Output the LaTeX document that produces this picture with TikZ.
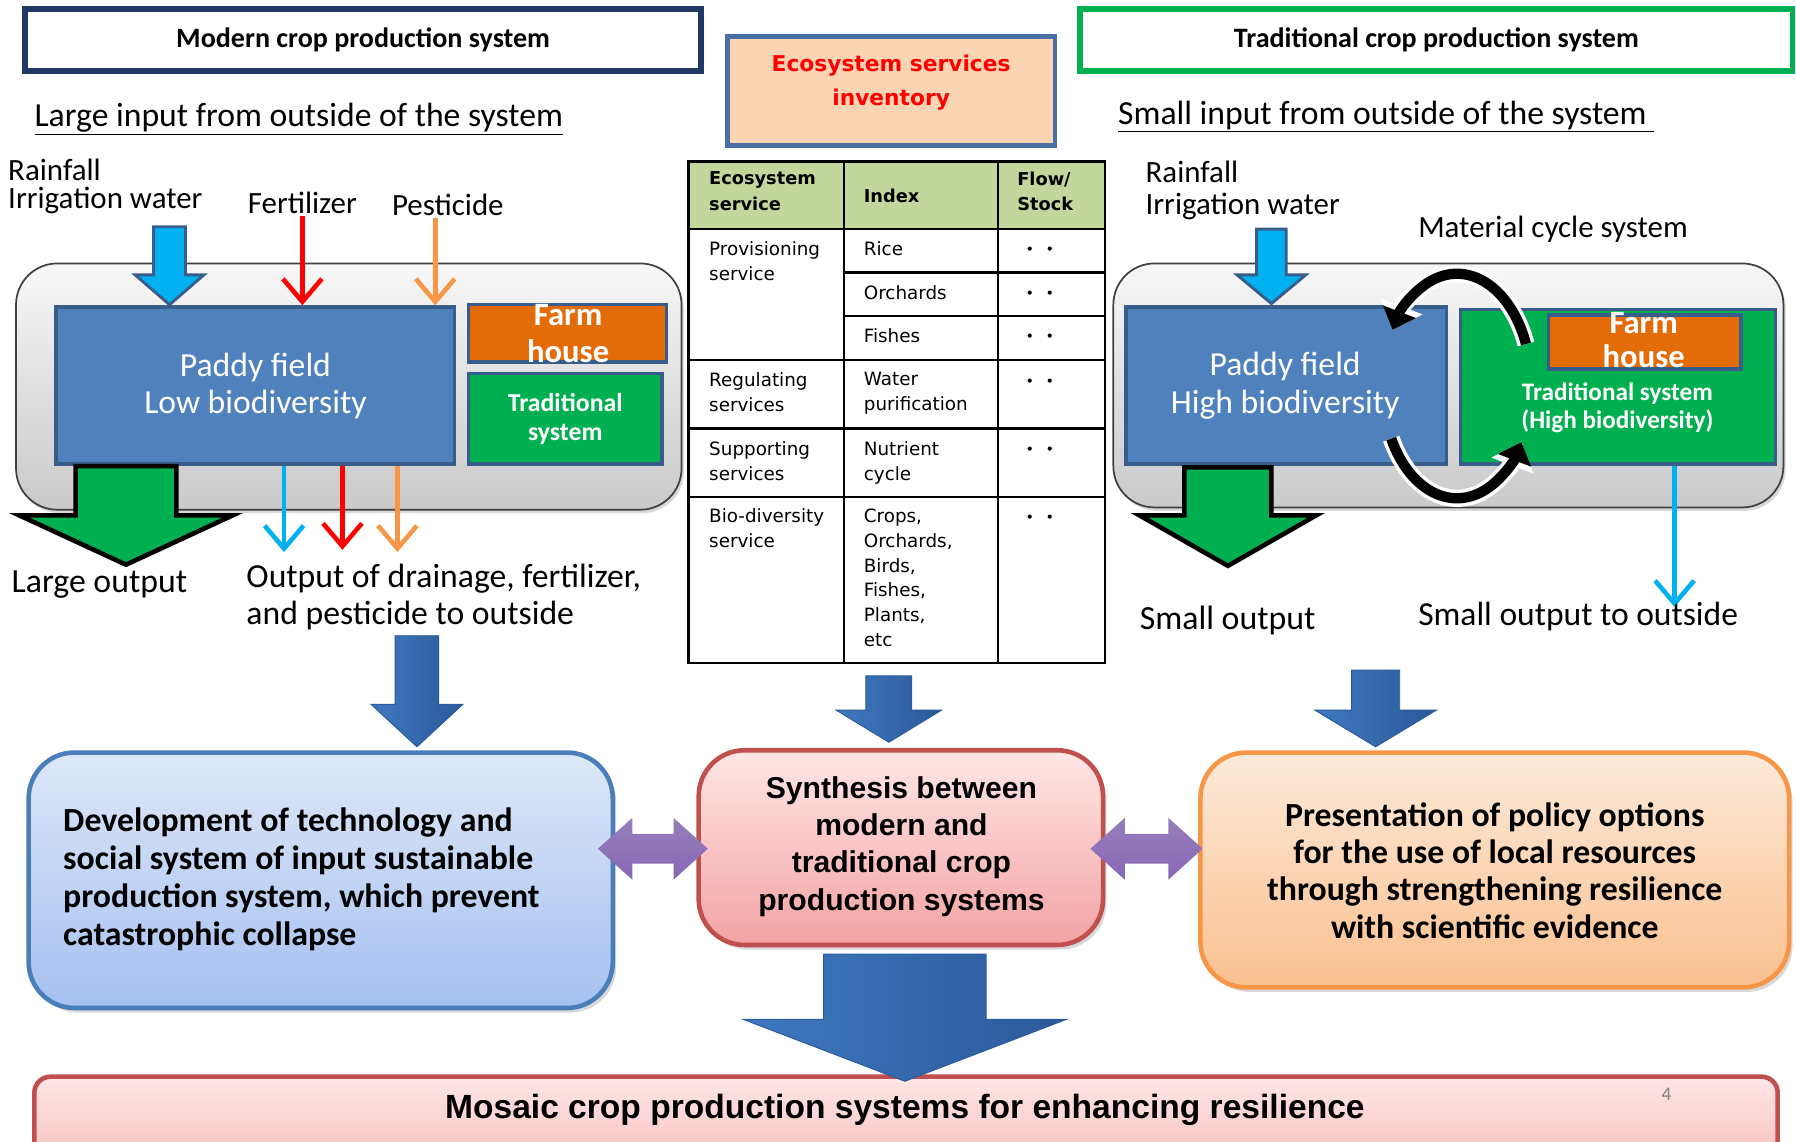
\documentclass[tikz,border=0pt]{standalone}
\usepackage{fontspec}
\setmainfont{Carlito}
\newfontfamily\arialf{Liberation Sans}
\newfontfamily\verd{DejaVu Sans}
\newfontfamily\cjk{Noto Sans CJK JP}
\usetikzlibrary{arrows.meta,shadows}
\definecolor{navy}{HTML}{1F3864}
\definecolor{hdrgreen}{HTML}{00B050}
\definecolor{peach}{HTML}{FBD4B4}
\definecolor{peachedge}{HTML}{4A6FA5}
\definecolor{paddy}{HTML}{4F81BD}
\definecolor{paddyedge}{HTML}{385D8A}
\definecolor{farm}{HTML}{E36C09}
\definecolor{tgreen}{HTML}{00B050}
\definecolor{cyanw}{HTML}{00B0F0}
\definecolor{redw}{HTML}{FF0000}
\definecolor{orangew}{HTML}{F79646}
\definecolor{tblgreen}{HTML}{C3D69B}
\definecolor{purp}{HTML}{7B5EA7}
\definecolor{boxAedge}{HTML}{4A7EBB}
\definecolor{boxAtop}{HTML}{DDE8F8}
\definecolor{boxAbot}{HTML}{A5C0F0}
\definecolor{boxBedge}{HTML}{C0504D}
\definecolor{boxBtop}{HTML}{FFE6E6}
\definecolor{boxBbot}{HTML}{F3A3A3}
\definecolor{boxCedge}{HTML}{F79646}
\definecolor{boxCtop}{HTML}{FDEADA}
\definecolor{boxCbot}{HTML}{FAC08F}
\definecolor{arrL}{HTML}{3F78C0}
\definecolor{arrM}{HTML}{5B95D8}
\definecolor{arrR}{HTML}{2A5A99}
\newcommand{\fs}[2]{\fontsize{#1}{#2}\selectfont}
% block arrow down: style, x, ytop, yneck, ytip, shaft half, head half
\newcommand{\blkdown}[7]{\path[#1] ({#2-#6},#3) -- ({#2+#6},#3) -- ({#2+#6},#4) -- ({#2+#7},#4) -- (#2,#5) -- ({#2-#7},#4) -- ({#2-#6},#4) -- cycle;}
% double horizontal arrow: style, xl, xr, y, shaft half, head half, head length
\newcommand{\blkdouble}[7]{\path[#1] (#2,#4) -- ({#2+#7},{#4-#6}) -- ({#2+#7},{#4-#5}) -- ({#3-#7},{#4-#5}) -- ({#3-#7},{#4-#6}) -- (#3,#4) -- ({#3-#7},{#4+#6}) -- ({#3-#7},{#4+#5}) -- ({#2+#7},{#4+#5}) -- ({#2+#7},{#4+#6}) -- cycle;}
\begin{document}
\begin{tikzpicture}[x=1pt,y=-1pt,
  txt/.style={inner sep=0pt,font=\fs{27}{30}},
  bigtxt/.style={inner sep=0pt,font=\fs{29.4}{33}},
  hdrbox/.style={rectangle,draw,line width=5pt,fill=white,inner sep=0pt,font=\bfseries\fs{24.5}{28}},
  graybox/.style={draw=black!75,line width=1.5pt,rounded corners=36pt,top color=gray!6,bottom color=gray!42,drop shadow={opacity=0.3,shadow xshift=2pt,shadow yshift=-3pt}},
  fieldbox/.style={rectangle,fill=paddy,draw=paddyedge,line width=3pt,inner sep=0pt},
  farmbox/.style={rectangle,fill=farm,draw=paddyedge,line width=3pt,inner sep=0pt},
  tradbox/.style={rectangle,fill=tgreen,draw=paddyedge,line width=3pt,inner sep=0pt},
  whitetxt/.style={inner sep=0pt,text=white,align=center},
  thinarr/.style={line width=4pt,-{Straight Barb[length=20pt,width=34pt]}},
  rainarr/.style={fill=cyanw,draw=paddyedge,line width=2.5pt},
  outarr/.style={fill=tgreen,draw=black,line width=4pt},
  bluearr/.style={left color=arrL,middle color=arrM,right color=arrR,draw=arrR,line width=0.8pt},
  purparr/.style={top color=purp!80,bottom color=purp!110!black,draw=none},
  tbltxt/.style={inner sep=0pt,anchor=north west,align=left,font=\verd\fs{16}{21.7}},
  tblhead/.style={inner sep=0pt,anchor=north west,align=left,font=\verd\bfseries\fs{15.5}{22}},
  dots/.style={inner sep=0pt,font=\cjk\fs{17}{17}},
  roundbox/.style={rectangle,rounded corners=40pt,line width=4pt,inner sep=0pt,drop shadow={opacity=0.3,shadow xshift=3pt,shadow yshift=-4pt}},
  cycw/.style={white,line width=15pt,-{Triangle[width=38pt,length=22pt]}},
  cycb/.style={black,line width=9pt,-{Triangle[width=30pt,length=17pt]}}
]
\useasboundingbox (0,0) rectangle (1568,997);
\fill[white] (0,0) rectangle (1568,997);

% ---------- headers ----------
\node[hdrbox,draw=navy,minimum width=590pt,minimum height=54pt] (hl) at (317,35) {Modern crop production system};
\node[hdrbox,draw=hdrgreen,minimum width=622pt,minimum height=54pt] (hr) at (1254,35) {Traditional crop production system};
\node[rectangle,draw=peachedge,fill=peach,line width=4pt,minimum width=286pt,minimum height=95pt,inner sep=0pt] (inv) at (778,79.5) {};
\node[inner sep=0pt,align=center,text=red,font=\verd\bfseries\fs{19}{30}] (invt) at (778,72) {Ecosystem services\\inventory};

% ---------- left system ----------
\node[bigtxt,anchor=west] (lin) at (30,104) {\underline{Large input from outside of the system}};
\node[txt,anchor=west] (rainL1) at (7,148) {Rainfall};
\node[txt,anchor=west] (rainL2) at (7,175) {Irrigation water};
\node[txt] (fert) at (264,177) {Fertilizer};
\node[txt] (pest) at (391,179) {Pesticide};

\path[graybox] (14,230) rectangle (595,445);

\node[fieldbox,minimum width=348pt,minimum height=137pt] (paddyL) at (223,336.5) {};
\node[whitetxt,font=\fs{29.4}{33}] (paddyLt) at (223,337) {Paddy field\\Low biodiversity};
\node[farmbox,minimum width=173pt,minimum height=50pt] (farmL) at (495.5,291) {};
\node[whitetxt,font=\bfseries\fs{28.5}{32}] (farmLt) at (496,291) {Farm\\house};
\node[tradbox,minimum width=169pt,minimum height=79pt] (tradL) at (493.5,365.5) {};
\node[whitetxt,font=\bfseries\fs{22.5}{25}] (tradLt) at (tradL.center) {Traditional\\system};

\blkdown{rainarr}{148}{198}{240}{266}{14}{30}
\draw[thinarr,redw] ([yshift=-2pt]fert.south) -- (fert.south |- paddyL.north);
\draw[thinarr,orangew] ([xshift=-11pt,yshift=-2pt]pest.south) -- ([xshift=-11pt]pest.south |- paddyL.north);

\blkdown{outarr}{110}{407}{450}{493}{44}{93}
\coordinate (o1) at (248,482);
\coordinate (o2) at (299,480);
\coordinate (o3) at (347,482);
\draw[thinarr,cyanw] (o1 |- paddyL.south) -- (o1);
\draw[thinarr,redw] (o2 |- paddyL.south) -- (o2);
\draw[thinarr,orangew] (o3 |- paddyL.south) -- (o3);

\node[txt,anchor=west,font=\fs{29.5}{32}] (lout) at (10,510) {Large output};
\node[bigtxt,anchor=west] (dr1) at (215,505) {Output of drainage, fertilizer,};
\node[bigtxt,anchor=west] (dr2) at (215,537) {and pesticide to outside};

% ---------- table ----------
\fill[tblgreen] (601,141) rectangle (965,200);
\draw[line width=2pt] (601,141) rectangle (965,579);
\draw[line width=2pt] (601,200) -- (965,200) (601,314) -- (965,314) (601,374) -- (965,374) (601,434) -- (965,434)
      (737,238) -- (965,238) (737,276) -- (965,276)
      (737,141) -- (737,579) (871,141) -- (871,579);
\node[tblhead] (th1) at (619,150) {Ecosystem\\service};
\node[tblhead,anchor=west] (th2) at (754,171) {Index};
\node[tblhead] (th3) at (888,150) {Flow/\\Stock};
\node[tbltxt] (c11) at (619,211) {Provisioning\\service};
\node[tbltxt] (c12) at (754,211) {Rice};
\node[tbltxt] (c22) at (754,249) {Orchards};
\node[tbltxt] (c32) at (754,287) {Fishes};
\node[tbltxt] (c41) at (619,325) {Regulating\\services};
\node[tbltxt] (c42) at (754,325) {Water\\purification};
\node[tbltxt] (c51) at (619,385) {Supporting\\services};
\node[tbltxt] (c52) at (754,385) {Nutrient\\cycle};
\node[tbltxt] (c61) at (619,444) {Bio-diversity\\service};
\node[tbltxt] (c62) at (754,444) {Crops,\\Orchards,\\Birds,\\Fishes,\\Plants,\\etc};
\foreach \yy [count=\i] in {220,258,296,335,394,454}
  \node[dots] (dot\i) at (908,\yy) {・・};

% ---------- right system ----------
\node[bigtxt,anchor=west] (rin) at (976,102) {\underline{Small input from outside of the system\ }};
\node[txt,anchor=west] (rainR1) at (1000,150) {Rainfall};
\node[txt,anchor=west] (rainR2) at (1000,180) {Irrigation water};
\node[txt,anchor=west] (mcs) at (1238,200) {Material cycle system};

\path[graybox] (972,230) rectangle (1557,443);
\node[fieldbox,minimum width=280pt,minimum height=137pt] (paddyR) at (1123,336.5) {};
\node[whitetxt,font=\fs{29.4}{33}] (paddyRt) at (1122,337) {Paddy field\\High biodiversity};
\node[tradbox,minimum width=275pt,minimum height=135pt] (tradR) at (1412.5,337.5) {};
\node[farmbox,minimum width=168pt,minimum height=47pt] (farmR) at (1436,298.5) {};
\node[whitetxt,font=\bfseries\fs{28.5}{30}] (farmRt) at (1435,297) {Farm\\house};
\node[whitetxt,font=\bfseries\fs{22}{24}] (tradRt) at (1412,356) {Traditional system\\(High biodiversity)};

\blkdown{rainarr}{1110}{200}{240}{265}{13}{30}

\coordinate (cyc) at (1272,337);
\draw[cycw] (cyc) ++(-22:65 and 98) arc[start angle=-22,end angle=-150,x radius=65,y radius=98];
\draw[cycb] (cyc) ++(-22:65 and 98) arc[start angle=-22,end angle=-150,x radius=65,y radius=98];
\draw[cycw] (cyc) ++(152:65 and 98) arc[start angle=152,end angle=30,x radius=65,y radius=98];
\draw[cycb] (cyc) ++(152:65 and 98) arc[start angle=152,end angle=30,x radius=65,y radius=98];

\blkdown{outarr}{1072}{408}{450}{494}{38}{77}
\coordinate (o4) at (1462,530);
\draw[thinarr,cyanw] (o4 |- tradR.south) -- (o4);
\node[txt,anchor=west,font=\fs{29.5}{32}] (sout) at (995,542) {Small output};
\node[txt,anchor=west,font=\fs{29.3}{32}] (soutx) at (1238,538) {Small output to outside};

% ---------- bottom boxes ----------
\node[roundbox,draw=boxAedge,top color=boxAtop,bottom color=boxAbot,minimum width=510pt,minimum height=223pt] (bA) at (280,768.5) {};
\node[inner sep=0pt,anchor=west,align=left,font=\bfseries\fs{29.5}{33}] (bAt) at (55,767.5)
  {Development of technology and\\social system of input sustainable\\production system, which prevent\\catastrophic collapse};
\node[roundbox,draw=boxBedge,top color=boxBtop,bottom color=boxBbot,minimum width=353pt,minimum height=170pt] (bB) at (786.5,740) {};
\node[inner sep=0pt,align=center,font=\arialf\bfseries\fs{26.3}{32.7}] (bBt) at (787,739)
  {Synthesis between\\modern and\\traditional crop\\production systems};
\node[roundbox,draw=boxCedge,top color=boxCtop,bottom color=boxCbot,minimum width=514pt,minimum height=205pt] (bC) at (1305,759.5) {};
\node[inner sep=0pt,align=center,font=\bfseries\fs{29.5}{32.5}] (bCt) at (1305,760)
  {Presentation of policy options\\for the use of local resources\\through strengthening resilience\\with scientific evidence};

\blkdown{bluearr}{364}{555}{615}{652}{19}{40}
\blkdown{bluearr}{776}{590}{620}{648}{20}{46}
\blkdown{bluearr}{1201}{585}{620}{652}{21}{53}

\blkdouble{purparr}{522}{618}{741}{13}{27}{30}
\blkdouble{purparr}{952}{1050}{741}{13}{27}{30}

\node[rectangle,rounded corners=14pt,draw=boxBedge,line width=4pt,top color=boxBtop,bottom color=boxBbot!70,
      minimum width=1522pt,minimum height=80pt,inner sep=0pt] (bD) at (791,980) {};
\node[inner sep=0pt,font=\arialf\bfseries\fs{29.3}{30}] (bDt) at (790,969) {Mosaic crop production systems for enhancing resilience};
\node[inner sep=0pt,text=gray,font=\fs{17}{18}] (pg) at (1455,955) {4};

\blkdown{bluearr}{790}{833}{890}{944}{71}{141}
\end{tikzpicture}
\end{document}
